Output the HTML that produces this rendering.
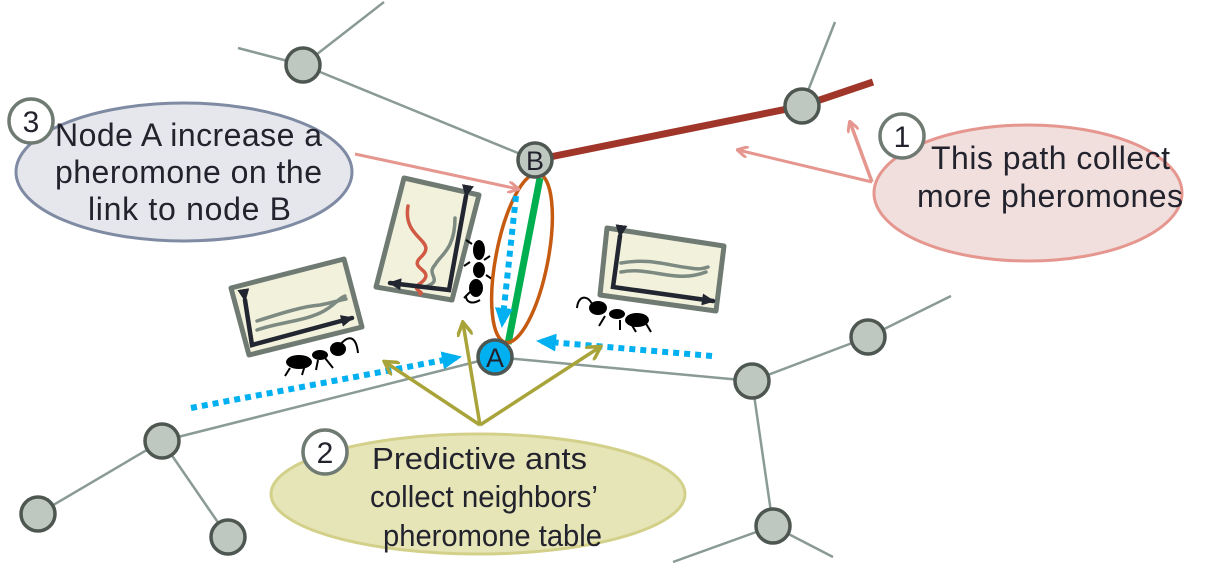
<!DOCTYPE html>
<html><head><meta charset="utf-8"><style>
html,body{margin:0;padding:0;background:#fff;}
svg{display:block;}
text{font-family:"Liberation Sans",sans-serif;fill:#23232e;}
</style></head><body>
<svg width="1211" height="575" viewBox="0 0 1211 575" xmlns="http://www.w3.org/2000/svg">
<defs>
<marker id="pk" markerWidth="12" markerHeight="12" refX="10" refY="6" orient="auto" markerUnits="userSpaceOnUse"><path d="M0,0 L11,6 L0,12" fill="none" stroke="#e5978f" stroke-width="3"/></marker>
<marker id="ol" markerWidth="16" markerHeight="16" refX="13" refY="8" orient="auto" markerUnits="userSpaceOnUse"><path d="M0,0 L14,8 L0,16" fill="none" stroke="#a9a43a" stroke-width="3.5"/></marker>
<marker id="bl" markerWidth="20" markerHeight="20" refX="18" refY="10" orient="auto" markerUnits="userSpaceOnUse"><path d="M0,1 L20,10 L0,19 z" fill="#00b0f0"/></marker>
<marker id="ax" markerWidth="14" markerHeight="14" refX="11" refY="7" orient="auto" markerUnits="userSpaceOnUse"><path d="M0,1 L13,7 L0,13 z" fill="#222631"/></marker>
</defs>
<g stroke="#8a9a94" stroke-width="2.5" fill="none">
<line x1="238" y1="48" x2="303" y2="65"/><line x1="303" y1="65" x2="384" y2="2"/><line x1="303" y1="65" x2="535" y2="160"/>
<line x1="802" y1="106" x2="835" y2="22"/>
<line x1="162" y1="441" x2="495" y2="357"/><line x1="495" y1="357" x2="752" y2="381"/>
<line x1="752" y1="381" x2="868" y2="337"/><line x1="868" y1="337" x2="951" y2="296"/>
<line x1="752" y1="381" x2="773" y2="526"/><line x1="773" y1="526" x2="673" y2="562"/><line x1="773" y1="526" x2="833" y2="557"/>
<line x1="162" y1="441" x2="38" y2="514"/><line x1="162" y1="441" x2="228" y2="537"/>
</g>
<polyline points="535,160 802,106 873,82" fill="none" stroke="#a0352a" stroke-width="7"/>
<g stroke="#6f7a72" stroke-width="5" fill="#f2f1dc" stroke-linejoin="round">
<polygon points="231,288 344,259 362,327 249,355"/>
<polygon points="404,178 479,195 452,300 376,287"/>
<polygon points="607,228 724,246 716,311 600,295"/>
</g>
<g fill="none" stroke-width="3.5" stroke-linecap="round">
<path d="M257,330 C280,322 300,322 320,313 C335,306 338,298 345,296" stroke="#7d8a82"/>
<path d="M257,321 C285,312 305,306 320,305 C335,302 340,300 346,299" stroke="#7d8a82"/>
<polyline points="245,300 252,345 352,318" stroke="#222631" stroke-width="4.5" marker-start="url(#ax)" marker-end="url(#ax)"/>
<path d="M408,206 C402,240 440,240 420,258 C408,270 440,270 418,285 C412,290 425,292 420,294" stroke="#d05a44"/>
<path d="M455,218 C455,250 440,255 435,265 C425,275 445,280 425,287" stroke="#7d8a82"/>
<polyline points="466,196 449,290 390,283" stroke="#222631" stroke-width="4.5" marker-start="url(#ax)" marker-end="url(#ax)"/>
<path d="M621,263 C650,258 665,265 690,268 C700,270 705,268 708,267" stroke="#7d8a82"/>
<path d="M621,272 C650,266 675,284 706,272" stroke="#7d8a82"/>
<polyline points="620,236 613,287 713,301" stroke="#222631" stroke-width="4.5" marker-start="url(#ax)" marker-end="url(#ax)"/>
</g>
<g fill="#000">
<ellipse cx="299" cy="362" rx="13" ry="7"/><ellipse cx="320" cy="355" rx="8" ry="5"/><ellipse cx="338" cy="349" rx="8" ry="7"/>
<ellipse cx="598" cy="308" rx="9" ry="7"/><ellipse cx="617" cy="314" rx="8" ry="5"/><ellipse cx="637" cy="320" rx="12" ry="7"/>
<ellipse cx="479" cy="250" rx="6" ry="10"/><ellipse cx="479" cy="270" rx="6" ry="8"/><ellipse cx="476" cy="288" rx="7" ry="9"/>
</g>
<g stroke="#000" stroke-width="2" fill="none">
<path d="M290,368 l-5,8 M305,365 l-3,10 M318,360 l-2,10 M325,358 l8,10 M340,345 c8,-10 16,-10 18,8"/>
<path d="M605,316 l-6,10 M620,320 l0,10 M630,322 l6,10 M645,322 l6,10 M592,304 c-5,-10 -14,-8 -15,4"/>
<path d="M470,292 l-6,6 M486,275 l6,4 M484,260 l6,-4 M470,262 l-6,4 M472,244 l-6,-4 M480,300 c-8,5 -14,2 -14,-4"/>
</g>
<line x1="540" y1="178" x2="508" y2="344" stroke="#00b050" stroke-width="7"/>
<ellipse cx="522" cy="258" rx="26" ry="86" transform="rotate(11 522 258)" fill="none" stroke="#c55a11" stroke-width="3.5"/>
<g stroke="#00b0f0" stroke-width="6" stroke-dasharray="6,5" fill="none">
<line x1="191" y1="408" x2="460" y2="357" marker-end="url(#bl)"/>
<line x1="712" y1="356" x2="538" y2="341" marker-end="url(#bl)"/>
<line x1="516" y1="196" x2="502" y2="326" marker-end="url(#bl)"/>
</g>
<g fill="#bfc7c1" stroke="#4d5650" stroke-width="3.5">
<circle cx="303" cy="65" r="17"/><circle cx="802" cy="106" r="17"/><circle cx="868" cy="337" r="17"/><circle cx="752" cy="381" r="17"/>
<circle cx="773" cy="526" r="17"/><circle cx="162" cy="441" r="17"/><circle cx="38" cy="514" r="17"/><circle cx="228" cy="537" r="17"/>
<circle cx="535" cy="160" r="17"/>
</g>
<circle cx="495" cy="357" r="17" fill="#00b0f0" stroke="#4d5650" stroke-width="3.5"/>
<text x="535" y="170" font-size="27" text-anchor="middle">B</text>
<text x="495" y="367" font-size="27" text-anchor="middle">A</text>
<line x1="355" y1="154" x2="518" y2="189" stroke="#e5978f" stroke-width="3" marker-end="url(#pk)"/>
<line x1="872" y1="182" x2="738" y2="150" stroke="#e5978f" stroke-width="3" marker-end="url(#pk)"/>
<line x1="872" y1="182" x2="850" y2="122" stroke="#e5978f" stroke-width="3.5" marker-end="url(#pk)"/>
<g stroke="#a9a43a" stroke-width="3.5">
<line x1="480" y1="425" x2="385" y2="362" marker-end="url(#ol)"/>
<line x1="480" y1="425" x2="463" y2="323" marker-end="url(#ol)"/>
<line x1="480" y1="425" x2="600" y2="347" marker-end="url(#ol)"/>
</g>
<ellipse cx="184" cy="172" rx="168" ry="69" fill="#e6e7ec" stroke="#7f8aa3" stroke-width="3"/>
<text font-size="32"><tspan x="55" y="146" textLength="267" lengthAdjust="spacing">Node A increase a</tspan><tspan x="55" y="183" textLength="267" lengthAdjust="spacing">pheromone on the</tspan><tspan x="88" y="220" textLength="203" lengthAdjust="spacing">link to node B</tspan></text>
<circle cx="31" cy="121" r="22" fill="#fff" stroke="#6f7a72" stroke-width="3.5"/>
<text x="31" y="132" font-size="30" text-anchor="middle">3</text>
<ellipse cx="1028" cy="193" rx="154" ry="68" fill="#f1dfde" stroke="#e5978f" stroke-width="3"/>
<text font-size="32"><tspan x="931" y="169" textLength="239" lengthAdjust="spacing">This path collect</tspan><tspan x="917" y="207" textLength="266" lengthAdjust="spacing">more pheromones</tspan></text>
<circle cx="902" cy="136" r="22" fill="#fff" stroke="#6f7a72" stroke-width="3.5"/>
<text x="902" y="147" font-size="30" text-anchor="middle">1</text>
<ellipse cx="478" cy="494" rx="207" ry="60" fill="#e6e5b8" stroke="#d3d08a" stroke-width="3"/>
<text font-size="31"><tspan x="372" y="469" textLength="215" lengthAdjust="spacingAndGlyphs">Predictive ants</tspan><tspan x="370" y="507" textLength="228" lengthAdjust="spacingAndGlyphs">collect neighbors’</tspan><tspan x="383" y="546" textLength="219" lengthAdjust="spacingAndGlyphs">pheromone table</tspan></text>
<circle cx="325" cy="452" r="22" fill="#fff" stroke="#6f7a72" stroke-width="3.5"/>
<text x="325" y="463" font-size="30" text-anchor="middle">2</text>
</svg>
</body></html>
